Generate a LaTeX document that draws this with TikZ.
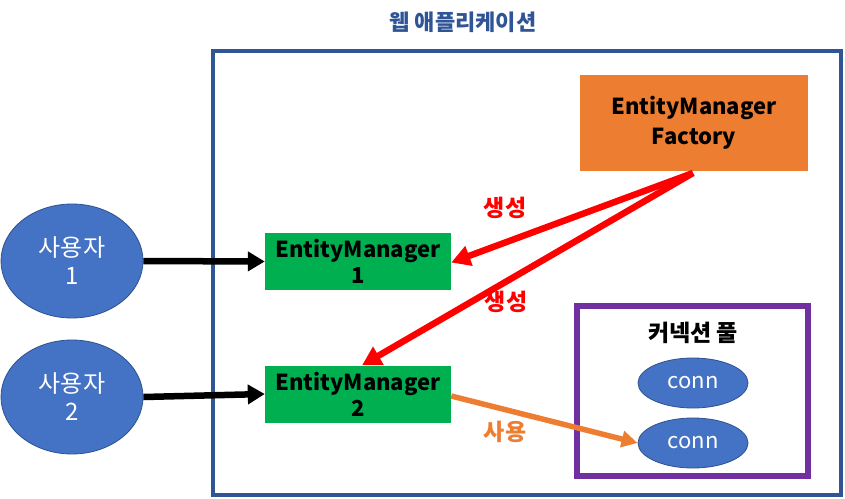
\documentclass[tikz,border=0pt]{standalone}
\usepackage{fontspec}
\setmainfont{Noto Sans CJK KR}
\usetikzlibrary{arrows.meta,shapes.geometric}
\definecolor{frameblue}{HTML}{2F5597}
\definecolor{fillblue}{HTML}{4472C4}
\definecolor{edgeblue}{HTML}{2F528F}
\definecolor{factorange}{HTML}{ED7D31}
\definecolor{emgreen}{HTML}{00B050}
\definecolor{poolpurple}{HTML}{7030A0}
\begin{document}
\begin{tikzpicture}[x=1pt,y=-1pt,
  userell/.style={ellipse,draw=edgeblue,line width=0.8pt,fill=fillblue,text=white,minimum width=142pt,minimum height=114pt,inner sep=0pt,align=center,font=\fontsize{24}{28}\selectfont},
  connell/.style={ellipse,draw=edgeblue,line width=0.8pt,fill=fillblue,text=white,minimum width=110pt,minimum height=50pt,inner sep=0pt,font=\fontsize{22}{25}\selectfont},
  embox/.style={rectangle,fill=emgreen,minimum width=186pt,minimum height=57pt,inner sep=0pt,align=center,font=\bfseries\fontsize{22}{26}\selectfont},
  factbox/.style={rectangle,fill=factorange,minimum width=228pt,minimum height=96pt,inner sep=0pt,align=center,font=\bfseries\fontsize{22}{30}\selectfont},
  lbl/.style={font=\bfseries\fontsize{23}{26}\selectfont},
  blackarrow/.style={line width=6.5pt,-{Triangle[length=17pt,width=19pt]}},
  redarrow/.style={draw=red,line width=6.5pt,-{Triangle[length=19pt,width=20pt]}},
  orangearrow/.style={draw=factorange,line width=5.5pt,-{Triangle[length=16pt,width=16pt]}}
]
\useasboundingbox (0,0) rectangle (845,498);
\fill[white] (0,0) rectangle (845,498);
% outer frame
\draw[frameblue,line width=4pt] (213,51) rectangle (841,495);
\node[font=\bfseries\fontsize{22}{26}\selectfont,text=frameblue] (title) at (463,22) {웹 애플리케이션};
% factory
\node[factbox] (fact) at (694,123) {EntityManager\\Factory};
% entity managers
\node[embox] (em1) at (358,261.5) {EntityManager\\1};
\node[embox] (em2) at (358,394) {EntityManager\\2};
% users
\node[userell] (u1) at (72,261) {사용자\\1};
\node[userell] (u2) at (72,397) {사용자\\2};
% pool
\draw[poolpurple,line width=5.5pt] (577,306) rectangle (808,476);
\node[font=\bfseries\fontsize{23}{26}\selectfont] (pooltitle) at (693,333) {커넥션 풀};
\node[connell] (c1) at (693,383) {conn};
\node[connell] (c2) at (693,443) {conn};
% arrows
\draw[blackarrow] (u1.east) -- (em1.west);
\draw[blackarrow] (u2.east) -- (em2.west);
\coordinate (src) at (693,173);
\draw[redarrow] (src) -- ([yshift=-1pt]em1.east);
\draw[redarrow] (src) -- ([xshift=4pt]em2.north);
\draw[orangearrow] ([yshift=-2pt]em2.east) -- (c2.west);
\node[lbl,text=red] (l1) at (505,208) {생성};
\node[lbl,text=red] (l2) at (506,302) {생성};
\node[lbl,text=factorange] (l3) at (505,432) {사용};
\end{tikzpicture}
\end{document}
